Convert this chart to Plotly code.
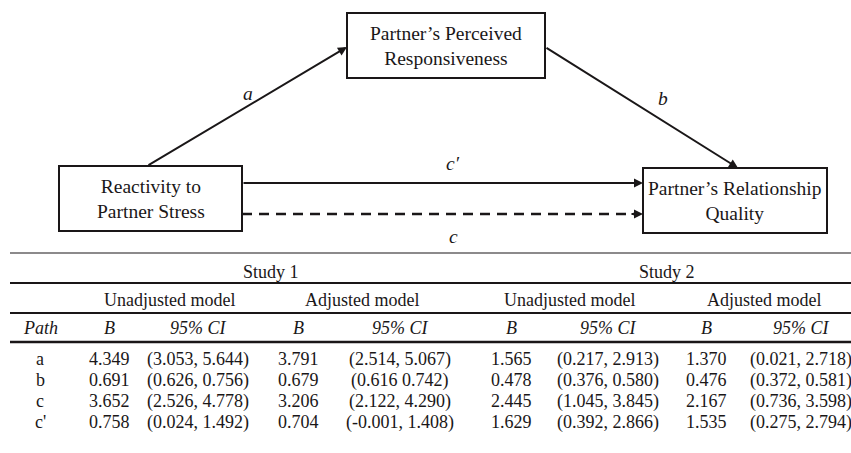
import plotly.graph_objects as go

# ---------------- data ----------------
paths = ["a", "b", "c", "c'"]
studies = ["Study 1", "Study 2"]
models = ["Unadjusted model", "Adjusted model", "Unadjusted model", "Adjusted model"]
col_headers = ["Path", "B", "95% CI", "B", "95% CI", "B", "95% CI", "B", "95% CI"]

s1_unadj_B = [4.349, 0.691, 3.652, 0.758]
s1_unadj_CI = ["(3.053, 5.644)", "(0.626, 0.756)", "(2.526, 4.778)", "(0.024, 1.492)"]
s1_adj_B = [3.791, 0.679, 3.206, 0.704]
s1_adj_CI = ["(2.514, 5.067)", "(0.616 0.742)", "(2.122, 4.290)", "(-0.001, 1.408)"]
s2_unadj_B = [1.565, 0.478, 2.445, 1.629]
s2_unadj_CI = ["(0.217, 2.913)", "(0.376, 0.580)", "(1.045, 3.845)", "(0.392, 2.866)"]
s2_adj_B = [1.370, 0.476, 2.167, 1.535]
s2_adj_CI = ["(0.021, 2.718)", "(0.372, 0.581)", "(0.736, 3.598)", "(0.275, 2.794)"]

node_mediator = "Partner’s Perceived<br>Responsiveness"
node_x = "Reactivity to<br>Partner Stress"
node_y = "Partner’s Relationship<br>Quality"
path_labels = ["a", "b", "c′", "c"]

# ---------------- layout constants ----------------
FONT = "Liberation Serif, Times New Roman, serif"
INK = "#1a1718"
W, H = 851, 453

fig = go.Figure()
fig.add_trace(go.Scatter(x=[0, W], y=[0, H], mode="markers",
                         marker=dict(opacity=0), hoverinfo="skip", showlegend=False))

shapes = []
ann = []

def box(x0, y0, x1, y1, text):
    shapes.append(dict(type="rect", xref="x", yref="y", x0=x0, y0=y0, x1=x1, y1=y1,
                       line=dict(color=INK, width=2), fillcolor="white"))
    ann.append(dict(x=(x0 + x1) / 2, y=(y0 + y1) / 2, xref="x", yref="y", text=text,
                    showarrow=False, font=dict(family=FONT, size=19.5, color=INK),
                    xanchor="center", yanchor="middle"))

def arrow(x0, y0, x1, y1):
    ann.append(dict(x=x1, y=y1, ax=x0, ay=y0, xref="x", yref="y", axref="x", ayref="y",
                    text="", showarrow=True, arrowhead=2, arrowsize=0.9, arrowwidth=2,
                    arrowcolor=INK, standoff=0, startstandoff=0))

# boxes
box(347, 13, 545, 78, node_mediator)
box(59, 166, 242, 231, node_x)
box(643, 168, 827, 233, node_y)

# arrows
arrow(147, 166, 347, 47)
arrow(545, 47, 738, 168)
arrow(242, 183, 643, 183)
# dashed c path
shapes.append(dict(type="line", xref="x", yref="y", x0=242, y0=214, x1=634, y1=214,
                   line=dict(color=INK, width=2.6, dash="10px,7px")))
arrow(630, 214, 643, 214)

# path labels
for (lx, ly), t in zip([(248, 93), (663, 98), (453, 163), (453, 236)], path_labels):
    ann.append(dict(x=lx, y=ly, xref="x", yref="y", text=f"<i>{t}</i>", showarrow=False,
                    font=dict(family=FONT, size=19.5, color=INK)))

# ---------------- table ----------------
TS = 18
def txt(x, y, t, italic=False):
    ann.append(dict(x=x, y=y, xref="x", yref="y", text=(f"<i>{t}</i>" if italic else t),
                    showarrow=False, font=dict(family=FONT, size=TS, color=INK),
                    xanchor="center", yanchor="middle"))

# rules
for yy, wd in [(253, 1.2), (283, 2.2), (313, 2.2), (342, 2.6)]:
    shapes.append(dict(type="line", xref="x", yref="y", x0=10, y0=yy, x1=W + 2, y1=yy,
                       line=dict(color=INK, width=wd)))

col_x = [40, 109, 198, 298, 400, 511, 608, 706, 801]
study_x = [271, 667]
model_x = [169, 362, 569, 764]
row_y = [359, 380, 401, 422]

for sx, s in zip(study_x, studies):
    txt(sx, 272, s)
for mx, m in zip(model_x, models):
    txt(mx, 300, m)
for cx, h in zip(col_x, col_headers):
    txt(cx, 328, h, italic=True)

columns = [
    paths,
    [f"{v:.3f}" for v in s1_unadj_B], s1_unadj_CI,
    [f"{v:.3f}" for v in s1_adj_B], s1_adj_CI,
    [f"{v:.3f}" for v in s2_unadj_B], s2_unadj_CI,
    [f"{v:.3f}" for v in s2_adj_B], s2_adj_CI,
]
for cx, col in zip(col_x, columns):
    for ry, v in zip(row_y, col):
        txt(cx, ry, v)

fig.update_layout(
    width=W, height=H, margin=dict(l=0, r=0, t=0, b=0),
    paper_bgcolor="white", plot_bgcolor="white",
    xaxis=dict(range=[0, W], visible=False, fixedrange=True),
    yaxis=dict(range=[H, 0], visible=False, fixedrange=True),
    shapes=shapes, annotations=ann, showlegend=False, hovermode=False,
)
fig.write_html("out.html", config={"displayModeBar": False, "staticPlot": True},
               post_script="document.body.style.margin='0';document.body.style.overflow='hidden';")
